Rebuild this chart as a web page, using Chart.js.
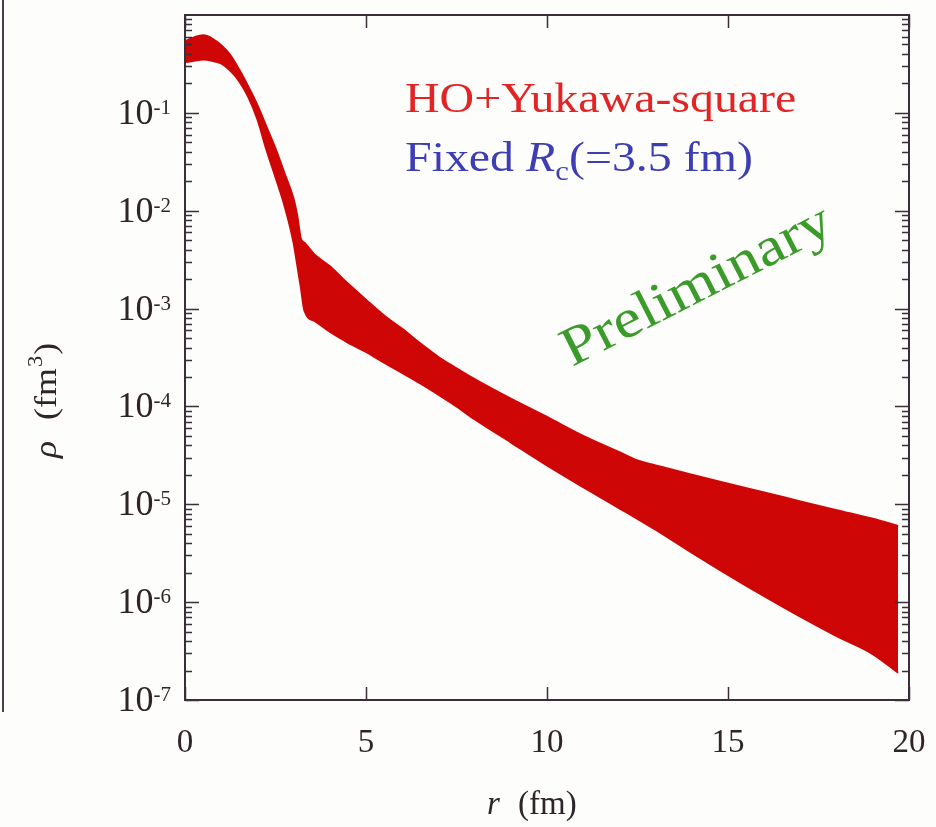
<!DOCTYPE html>
<html>
<head>
<meta charset="utf-8">
<script src="https://cdn.jsdelivr.net/npm/chart.js@4.4.1/dist/chart.umd.min.js"></script>
<style>
  html, body { margin: 0; padding: 0; background: #fdfdfb; }
  #wrap { position: relative; width: 936px; height: 827px; }
  #edge { position: absolute; left: 2px; top: 0; width: 2px; height: 712px; background: #4a4048; }
  canvas { position: absolute; left: 0; top: 0; }
</style>
</head>
<body>
<div id="wrap">
  <div id="edge"></div>
  <canvas id="c" width="936" height="827"></canvas>
</div>
<script>
// r in fm, shared by both edges of the band
var r = [0, 0.25, 0.5, 0.75, 1, 1.25, 1.5, 1.75, 2, 2.25, 2.5, 2.75, 3, 3.1, 3.2, 3.3, 3.6,
         4, 4.5, 5, 5.5, 6, 6.5, 7, 7.5, 8, 9, 10, 11, 12, 12.5, 13, 14, 15, 16, 17, 18, 19, 19.7];

// upper edge of rho (fm^-3)
var rhoUpper = [0.54, 0.59, 0.62, 0.575, 0.49, 0.39, 0.275, 0.185, 0.12, 0.072, 0.043, 0.024, 0.0132,
                0.0089, 0.0052, 0.0047, 0.0035, 0.0027, 0.0018, 0.00123, 8.5e-4, 6.2e-4, 4.4e-4,
                3.2e-4, 2.45e-4, 1.9e-4, 1.2e-4, 7.8e-5, 5.0e-5, 3.4e-5, 2.8e-5, 2.5e-5, 2.0e-5,
                1.62e-5, 1.32e-5, 1.07e-5, 8.7e-6, 7.1e-6, 6.0e-6];

// lower edge of rho (fm^-3)
var rhoLower = [0.33, 0.34, 0.35, 0.34, 0.32, 0.27, 0.21, 0.145, 0.086, 0.042, 0.022, 0.0112, 0.0047,
                0.0028, 0.00166, 9.5e-4, 7.4e-4, 5.8e-4, 4.5e-4, 3.6e-4, 2.8e-4, 2.2e-4, 1.72e-4,
                1.32e-4, 1.0e-4, 7.4e-5, 4.3e-5, 2.5e-5, 1.5e-5, 9.1e-6, 7.1e-6, 5.5e-6, 3.2e-6,
                1.9e-6, 1.15e-6, 7.1e-7, 4.5e-7, 2.95e-7, 1.9e-7];

var xTicks = [0, 5, 10, 15, 20];
var yExps = [-7, -6, -5, -4, -3, -2, -1];   // labelled decades

var bandColor = '#cf0606';
var inkColor = '#2e2429';
var serif = '"Liberation Serif", "DejaVu Serif", serif';

function pts(ys) {
  return r.map(function (x, i) { return { x: x, y: ys[i] }; });
}

// frame, inward ticks, labels and the slide's text
var decor = {
  id: 'decor',
  afterDraw: function (chart) {
    var ctx = chart.ctx, xs = chart.scales.x, ys = chart.scales.y, a = chart.chartArea;
    ctx.save();
    ctx.strokeStyle = '#3b2e38';
    ctx.lineWidth = 2;
    ctx.strokeRect(a.left, a.top, a.right - a.left, a.bottom - a.top);

    // y ticks, both sides
    ctx.lineWidth = 1.5;
    ctx.beginPath();
    for (var e = -7; e <= -1; e++) {
      for (var m = 1; m <= 9; m++) {
        var v = m * Math.pow(10, e);
        var py = Math.round(ys.getPixelForValue(v)) + 0.5;
        var len = m === 1 ? 14 : 7;
        ctx.moveTo(a.left, py); ctx.lineTo(a.left + len, py);
        ctx.moveTo(a.right, py); ctx.lineTo(a.right - len, py);
      }
    }
    // x ticks, bottom and top
    xTicks.forEach(function (t) {
      var px = Math.round(xs.getPixelForValue(t)) + 0.5;
      ctx.moveTo(px, a.bottom); ctx.lineTo(px, a.bottom - 13);
      ctx.moveTo(px, a.top); ctx.lineTo(px, a.top + 13);
    });
    ctx.stroke();

    // y labels 10^n
    ctx.fillStyle = inkColor;
    ctx.textBaseline = 'alphabetic';
    yExps.forEach(function (n) {
      var py = ys.getPixelForValue(Math.pow(10, n));
      var exp = String(n);
      ctx.font = '21px ' + serif;
      var we = ctx.measureText(exp).width;
      ctx.font = '36px ' + serif;
      var wb = ctx.measureText('10').width;
      var right = a.left - 14;
      ctx.textAlign = 'left';
      ctx.fillText('10', right - we - wb, py + 11);
      ctx.font = '21px ' + serif;
      ctx.fillText(exp, right - we, py + 1);
    });

    // x labels
    ctx.font = '33px ' + serif;
    ctx.textAlign = 'center';
    xTicks.forEach(function (t) {
      ctx.fillText(String(t), xs.getPixelForValue(t), a.bottom + 52);
    });

    // x title
    ctx.textAlign = 'left';
    ctx.font = 'italic 33px ' + serif;
    ctx.fillText('r', a.left + 302, a.bottom + 114);
    ctx.font = '33px ' + serif;
    ctx.fillText('(fm)', a.left + 333, a.bottom + 114);

    // y title, rotated
    ctx.save();
    ctx.translate(56, 458);
    ctx.rotate(-Math.PI / 2);
    ctx.scale(1.12, 1);
    ctx.font = 'italic 32px ' + serif;
    ctx.fillText('\u03c1', 0, 0);
    ctx.font = '32px ' + serif;
    ctx.fillText('(fm', 34, 0);
    var wf = ctx.measureText('(fm').width;
    ctx.font = '20px ' + serif;
    ctx.fillText('3', 34 + wf + 1, -14);
    ctx.font = '32px ' + serif;
    ctx.fillText(')', 34 + wf + 12, 0);
    ctx.restore();

    // legend-like captions
    var sx = 1.14;
    ctx.save();
    ctx.translate(405, 112);
    ctx.scale(sx, 1);
    ctx.fillStyle = '#e22424';
    ctx.font = '42px ' + serif;
    ctx.fillText('HO+Yukawa-square', 0, 0);
    ctx.restore();

    ctx.save();
    ctx.translate(405, 171);
    ctx.scale(sx, 1);
    ctx.fillStyle = '#3d3db4';
    ctx.font = '42px ' + serif;
    var x0 = 0;
    ctx.fillText('Fixed ', x0, 0);
    x0 += ctx.measureText('Fixed ').width;
    ctx.font = 'italic 42px ' + serif;
    ctx.fillText('R', x0, 0);
    x0 += ctx.measureText('R').width;
    ctx.font = '27px ' + serif;
    ctx.fillText('c', x0, 9);
    x0 += ctx.measureText('c').width;
    ctx.font = '42px ' + serif;
    ctx.fillText('(=3.5 fm)', x0, 0);
    ctx.restore();

    // watermark
    ctx.save();
    ctx.translate(572, 367);
    ctx.rotate(-27 * Math.PI / 180);
    ctx.scale(sx, 1);
    ctx.fillStyle = '#3a9a2a';
    ctx.font = '55px ' + serif;
    ctx.fillText('Preliminary', 0, 0);
    ctx.restore();

    ctx.restore();
  }
};

new Chart(document.getElementById('c'), {
  type: 'line',
  data: {
    datasets: [
      {
        label: 'upper',
        data: pts(rhoUpper),
        borderColor: bandColor,
        borderWidth: 2,
        pointRadius: 0,
        fill: false,
        cubicInterpolationMode: 'monotone'
      },
      {
        label: 'lower',
        data: pts(rhoLower),
        borderColor: bandColor,
        borderWidth: 2,
        pointRadius: 0,
        backgroundColor: bandColor,
        fill: '-1',
        cubicInterpolationMode: 'monotone'
      }
    ]
  },
  options: {
    responsive: false,
    animation: false,
    devicePixelRatio: 1,
    layout: { padding: { left: 185, right: 27, top: 15, bottom: 127 } },
    plugins: { legend: { display: false }, tooltip: { enabled: false } },
    scales: {
      x: { type: 'linear', min: 0, max: 20, display: false },
      y: { type: 'logarithmic', min: 1e-7, max: 1, display: false }
    }
  },
  plugins: [decor]
});
</script>
</body>
</html>
